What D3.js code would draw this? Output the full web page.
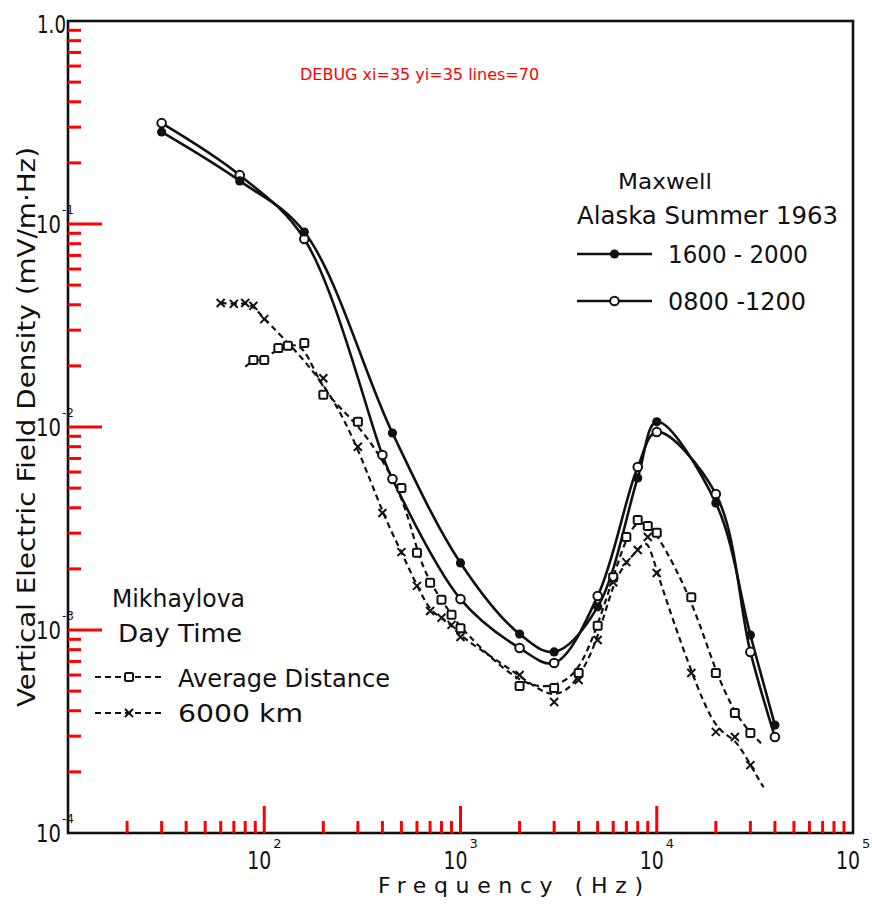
<!DOCTYPE html>
<html>
<head>
<meta charset="utf-8">
<script src="https://cdn.jsdelivr.net/npm/d3@7"></script>
</head>
<body style="margin:0">
<div id="chart"></div>
<script>
// Maxwell, Alaska summer 1963 (mV/m·Hz)
var eveningFreq = [30, 75, 160, 450, 1000, 2000, 3000, 5000, 8000, 10000, 20000, 30000, 40000];
var eveningValues = [0.284, 0.163, 0.0913, 0.00934, 0.00214, 0.000955, 0.00078, 0.0013, 0.00561, 0.0106, 0.00422, 0.000945, 0.00034];
var morningFreq = [30, 75, 160, 400, 450, 1000, 2000, 3000, 5000, 8000, 10000, 20000, 30000, 40000];
var morningValues = [0.314, 0.174, 0.0844, 0.00728, 0.00554, 0.00142, 0.000815, 0.000688, 0.00147, 0.00635, 0.00945, 0.00468, 0.00078, 0.000297];

// Mikhaylova, day time
var avgFreq = [80, 88, 100, 118, 132, 160, 200, 300, 500, 600, 700, 800, 900, 1000, 2000, 3000, 4000, 5000, 6000, 7000, 8000, 9000, 10000, 15000, 20000, 25000, 30000, 34000];
var avgValues = [0.0198, 0.0214, 0.0214, 0.0245, 0.0251, 0.0259, 0.0144, 0.0106, 0.0050, 0.0024, 0.00171, 0.00141, 0.00119, 0.00102, 0.00053, 0.000518, 0.000614, 0.00105, 0.00182, 0.00287, 0.00348, 0.00325, 0.00301, 0.00145, 0.000614, 0.00039, 0.000311, 0.000277];
var kmFreq = [60, 70, 80, 88, 100, 200, 300, 400, 500, 600, 700, 800, 900, 1000, 2000, 3000, 4000, 5000, 6000, 7000, 8000, 9000, 10000, 15000, 20000, 25000, 30000, 35000];
var kmValues = [0.0408, 0.0404, 0.0408, 0.0395, 0.034, 0.0174, 0.0080, 0.00377, 0.00242, 0.00165, 0.00124, 0.00115, 0.00106, 0.000924, 0.0006, 0.000442, 0.000567, 0.000893, 0.00172, 0.00216, 0.00248, 0.00287, 0.00191, 0.000614, 0.000315, 0.000297, 0.000216, 0.000168];
// dashed curves run on past these points without a symbol
var avgBare = [80, 34000];
var kmBare = [35000];

var yLabelValues = [1e-4, 1e-3, 1e-2, 1e-1];
var yLabelExps = ["-4", "-3", "-2", "-1"];
var xLabelValues = [1e2, 1e3, 1e4, 1e5];
var xLabelExps = ["2", "3", "4", "5"];

var attrs = {
  svgWidth: 872,
  svgHeight: 905,
  left: 68,
  right: 853,
  top: 21,
  bottom: 833,
  font: "'DejaVu Sans', sans-serif",
  ink: "#111"
};

var x = d3.scaleLog().domain([10, 1e5]).range([attrs.left, attrs.right]);
var y = d3.scaleLog().domain([1e-4, 1]).range([attrs.bottom, attrs.top]);

var svg = d3.select("#chart").append("svg")
  .attr("width", attrs.svgWidth)
  .attr("height", attrs.svgHeight)
  .attr("font-family", attrs.font);

function isDecade(d) {
  var l = Math.log10(d);
  return Math.abs(l - Math.round(l)) < 1e-9;
}

// ---- frame
svg.append("rect")
  .attr("x", attrs.left).attr("y", attrs.top)
  .attr("width", attrs.right - attrs.left)
  .attr("height", attrs.bottom - attrs.top)
  .attr("fill", "none")
  .attr("stroke", attrs.ink)
  .attr("stroke-width", 2.6);

// ---- ticks, inside the frame, left and bottom only
var xInner = x.ticks().filter(function (d) { return d > 10 && d < 1e5; });
var yInner = y.ticks().filter(function (d) { return d > 1e-4 && d < 1; });
var tickLayer = svg.append("g");
xInner.forEach(function (d) {
  tickLayer.append("line")
    .attr("x1", x(d)).attr("x2", x(d))
    .attr("y1", attrs.bottom).attr("y2", attrs.bottom - (isDecade(d) ? 27 : 12))
    .attr("stroke", "red").attr("stroke-width", 3);
});
yInner.forEach(function (d) {
  tickLayer.append("line")
    .attr("x1", attrs.left).attr("x2", attrs.left + (isDecade(d) ? 34 : 13))
    .attr("y1", y(d)).attr("y2", y(d))
    .attr("stroke", "red").attr("stroke-width", 3);
});
svg.append("text").attr("x", 300).attr("y", 80).attr("font-size", 16).attr("fill", "red")
  .text("DEBUG xi=" + xInner.length + " yi=" + yInner.length + " lines=" + tickLayer.selectAll("line").size());

// ---- tick labels
var labels = svg.append("g").attr("fill", attrs.ink);
labels.append("text")
  .attr("x", 66).attr("y", y(1) + 12)
  .attr("text-anchor", "end")
  .attr("font-size", 24)
  .attr("textLength", 29).attr("lengthAdjust", "spacingAndGlyphs")
  .text("1.0");
yLabelValues.forEach(function (v, i) {
  labels.append("text")
    .attr("x", 36).attr("y", y(v) + 9)
    .attr("font-size", 24)
    .attr("textLength", 25).attr("lengthAdjust", "spacingAndGlyphs")
    .text("10");
  labels.append("text")
    .attr("x", 62).attr("y", y(v) - 10)
    .attr("font-size", 12)
    .text(yLabelExps[i]);
});
xLabelValues.forEach(function (v, i) {
  labels.append("text")
    .attr("x", x(v) - 17).attr("y", 869)
    .attr("font-size", 25)
    .attr("textLength", 24).attr("lengthAdjust", "spacingAndGlyphs")
    .text("10");
  labels.append("text")
    .attr("x", x(v) + 9).attr("y", 848)
    .attr("font-size", 13)
    .text(xLabelExps[i]);
});

// ---- axis titles
svg.append("text")
  .attr("x", 378).attr("y", 893)
  .attr("font-size", 22)
  .attr("fill", attrs.ink)
  .attr("textLength", 265).attr("lengthAdjust", "spacing")
  .text("Frequency (Hz)");
svg.append("text")
  .attr("transform", "translate(35,707) rotate(-90)")
  .attr("font-size", 24)
  .attr("fill", attrs.ink)
  .attr("textLength", 560).attr("lengthAdjust", "spacingAndGlyphs")
  .text("Vertical Electric Field Density (mV/m\u00b7Hz)");

// ---- curves
function pts(freq, vals) {
  return freq.map(function (f, i) { return { f: f, v: vals[i] }; });
}
var smooth = d3.line()
  .x(function (d) { return x(d.f); })
  .y(function (d) { return y(d.v); })
  .curve(d3.curveCatmullRom.alpha(0.5));
var faired = d3.line()
  .x(function (d) { return x(d.f); })
  .y(function (d) { return y(d.v); })
  .curve(d3.curveBasis);

var series = [
  { data: pts(avgFreq, avgValues), line: faired, dash: "6,4", width: 2.2, mark: "square", bare: avgBare },
  { data: pts(kmFreq, kmValues), line: faired, dash: "6,4", width: 2.2, mark: "cross", bare: kmBare },
  { data: pts(morningFreq, morningValues), line: smooth, dash: null, width: 2.6, mark: "open", bare: [] },
  { data: pts(eveningFreq, eveningValues), line: smooth, dash: null, width: 2.6, mark: "dot", bare: [] }
];

var plot = svg.append("g");
series.forEach(function (s) {
  plot.append("path")
    .attr("d", s.line(s.data))
    .attr("fill", "none")
    .attr("stroke", attrs.ink)
    .attr("stroke-width", s.width)
    .attr("stroke-dasharray", s.dash);
});
series.forEach(function (s) {
  s.data.filter(function (d) { return s.bare.indexOf(d.f) < 0; })
    .forEach(function (d) { drawMark(plot, s.mark, x(d.f), y(d.v)); });
});

function drawMark(g, kind, cx, cy) {
  if (kind === "dot") {
    g.append("circle").attr("cx", cx).attr("cy", cy).attr("r", 4.6)
      .attr("fill", attrs.ink);
  } else if (kind === "open") {
    g.append("circle").attr("cx", cx).attr("cy", cy).attr("r", 4.3)
      .attr("fill", "#fff").attr("stroke", attrs.ink).attr("stroke-width", 2);
  } else if (kind === "square") {
    g.append("rect").attr("x", cx - 4).attr("y", cy - 4)
      .attr("width", 8).attr("height", 8).attr("rx", 1.5)
      .attr("fill", "#fff").attr("stroke", attrs.ink).attr("stroke-width", 2);
  } else if (kind === "cross") {
    g.append("path")
      .attr("d", "M" + (cx - 4) + "," + (cy - 4) + "L" + (cx + 4) + "," + (cy + 4) +
                 "M" + (cx + 4) + "," + (cy - 4) + "L" + (cx - 4) + "," + (cy + 4))
      .attr("stroke", attrs.ink).attr("stroke-width", 2);
  }
}

// ---- legends
var legend = svg.append("g").attr("fill", attrs.ink);
function legendText(tx, ty, size, len, str) {
  legend.append("text")
    .attr("x", tx).attr("y", ty)
    .attr("font-size", size)
    .attr("textLength", len).attr("lengthAdjust", "spacingAndGlyphs")
    .text(str);
}
function legendLine(x1, x2, ly, dash, kind) {
  legend.append("line")
    .attr("x1", x1).attr("x2", x2).attr("y1", ly).attr("y2", ly)
    .attr("stroke", attrs.ink).attr("stroke-width", dash ? 2.2 : 2.6)
    .attr("stroke-dasharray", dash);
  drawMark(legend, kind, (x1 + x2) / 2, ly);
}

legendText(618, 189, 22, 94, "Maxwell");
legendText(577, 224, 24, 261, "Alaska Summer 1963");
legendLine(577, 652, 254, null, "dot");
legendText(668, 263, 25, 140, "1600 - 2000");
legendLine(577, 652, 301, null, "open");
legendText(668, 310, 25, 138, "0800 -1200");

legendText(112, 607, 24, 133, "Mikhaylova");
legendText(118, 642, 24, 124, "Day Time");
legendLine(95, 163, 677, "6,4", "square");
legendText(178, 687, 24, 212, "Average Distance");
legendLine(95, 163, 713, "6,4", "cross");
legendText(178, 722, 24, 125, "6000 km");
</script>
</body>
</html>
